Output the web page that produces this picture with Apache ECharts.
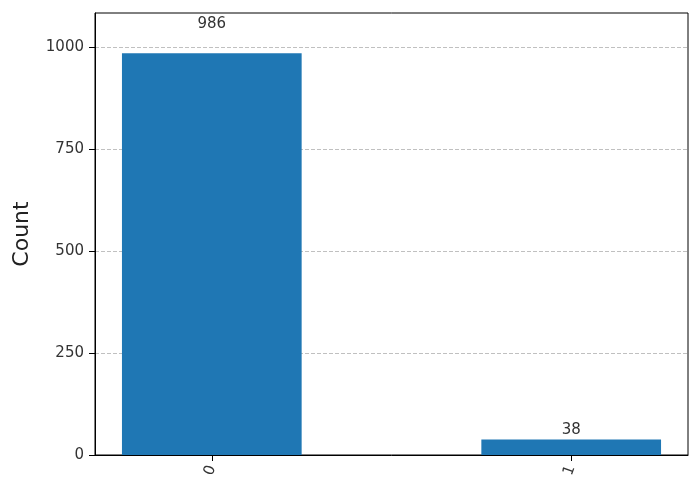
<!DOCTYPE html>
<html>
<head>
<meta charset="utf-8">
<script src="https://cdn.jsdelivr.net/npm/echarts@6/dist/echarts.min.js"></script>
<style>
  html, body { margin: 0; padding: 0; background: #fff; }
  #main { width: 700px; height: 496px; }
</style>
</head>
<body>
<div id="main"></div>
<script>
// measured outcomes, one bar per bitstring
const categories = ['0', '1'];
const counts = [986, 38];
const yTicks = [0, 250, 500, 750, 1000];

const BAR_HALF = 0.25;
const FONT = 'DejaVu Sans';

const chart = echarts.init(document.getElementById('main'));

const barData = counts.map((v, i) => [i, v]);

const renderBar = (params, api) => {
  const x = api.value(0);
  const v = api.value(1);
  const p0 = api.coord([x - BAR_HALF, v]);
  const p1 = api.coord([x + BAR_HALF, 0]);
  const lab = api.coord([x, v * 1.05]);
  return {
    type: 'group',
    children: [
      {
        type: 'rect',
        shape: { x: p0[0], y: p0[1], width: p1[0] - p0[0], height: p1[1] - p0[1] },
        style: { fill: '#1f77b4' },
      },
      {
        type: 'text',
        x: lab[0],
        y: lab[1] - 1,
        style: {
          text: String(v),
          fill: '#333',
          font: `15px "${FONT}"`,
          align: 'center',
          verticalAlign: 'bottom',
        },
      },
    ],
  };
};

chart.setOption({
  animation: false,
  backgroundColor: '#fff',
  grid: {
    left: 95, right: 12, top: 13, bottom: 41,
    show: true, borderColor: '#000', borderWidth: 1,
  },
  xAxis: {
    type: 'value',
    min: -0.325,
    max: 1.325,
    axisLine: { show: true, lineStyle: { color: '#000' } },
    axisTick: {
      show: true, customValues: [0, 1], length: 6,
      lineStyle: { color: '#000' },
    },
    axisLabel: {
      customValues: [0, 1],
      formatter: (v) => categories[Math.round(v)],
      rotate: 70,
      color: '#333',
      fontFamily: FONT,
      fontSize: 15,
      margin: 11,
    },
    splitLine: { show: false },
  },
  yAxis: {
    type: 'value',
    min: 0,
    max: 1084.6,
    name: 'Count',
    nameLocation: 'middle',
    nameGap: 62,
    nameTextStyle: { fontFamily: FONT, fontSize: 22, color: '#222' },
    axisLine: { show: true, onZero: false, lineStyle: { color: '#000' } },
    axisTick: {
      show: true, customValues: yTicks, length: 6,
      lineStyle: { color: '#000' },
    },
    axisLabel: {
      customValues: yTicks,
      formatter: (v) => String(v),
      color: '#333',
      fontFamily: FONT,
      fontSize: 15,
      margin: 11,
    },
    interval: 250,
    splitLine: {
      show: true,
      lineStyle: { color: '#b0b0b0', type: [4, 2], width: 0.8 },
    },
  },
  series: [
    {
      type: 'custom',
      renderItem: renderBar,
      data: barData,
      encode: { x: 0, y: 1 },
      clip: false,
    },
  ],
});
</script>
</body>
</html>
